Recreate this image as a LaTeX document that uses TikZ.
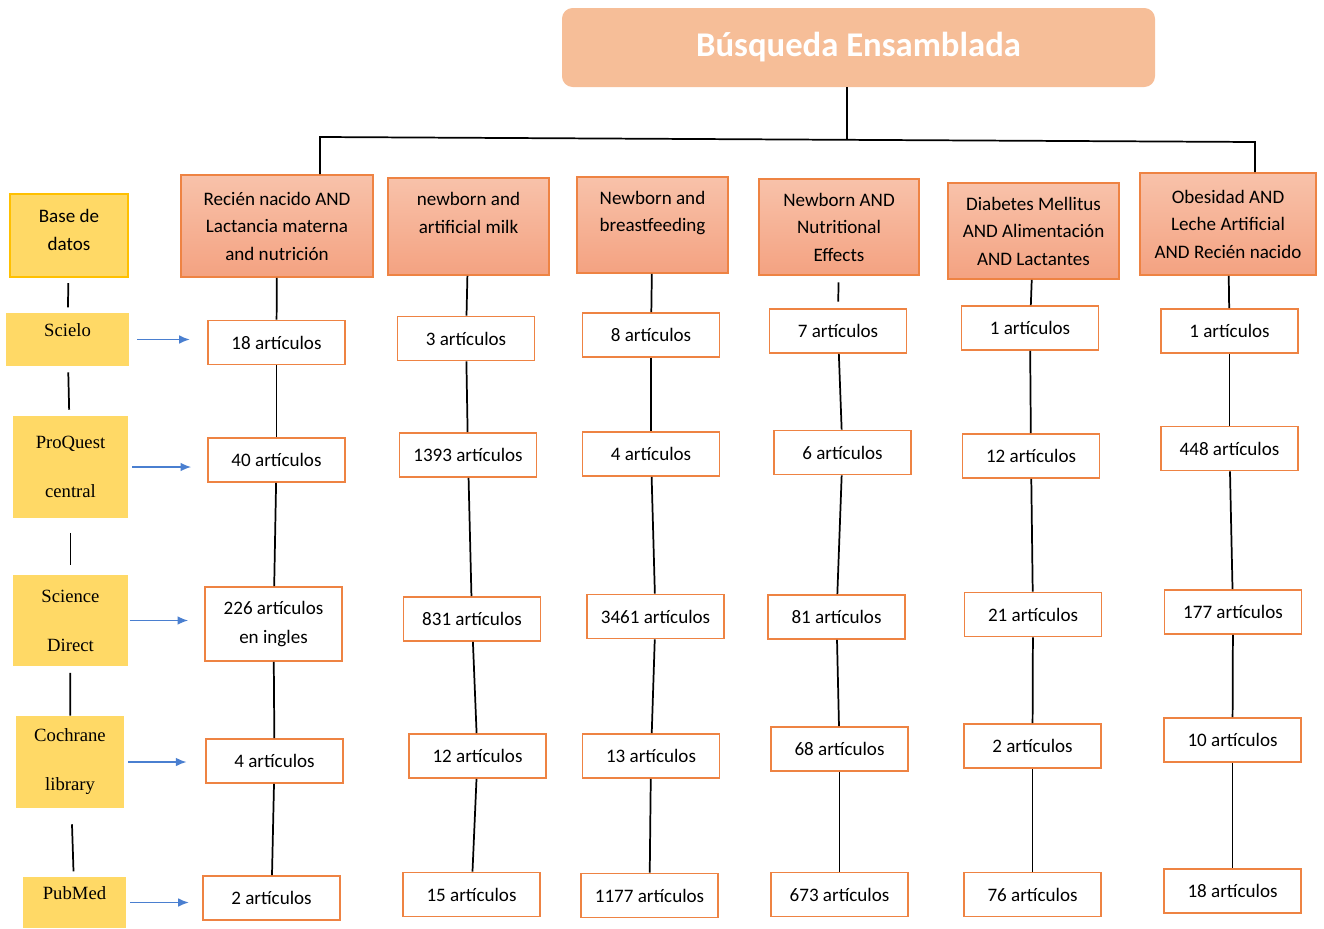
\documentclass[tikz,border=0pt]{standalone}
\usepackage{fontspec}
\setmainfont{Carlito}
\newfontfamily\dbfont{Liberation Serif}
\usepackage{tikz}
\usetikzlibrary{arrows.meta}

\definecolor{titlefill}{HTML}{F6BE98}
\definecolor{orangeline}{HTML}{EE8343}
\definecolor{headtop}{HTML}{F8C2AA}
\definecolor{headbot}{HTML}{F4A281}
\definecolor{dbyellow}{HTML}{FFD966}
\definecolor{dbline}{HTML}{FFC000}
\definecolor{arrowblue}{HTML}{4A7FD0}

\begin{document}
\begin{tikzpicture}[x=0.75pt,y=0.75pt,yscale=-1,xscale=1,
    headbox/.style={draw=orangeline,line width=1.2pt,top color=headtop,bottom color=headbot,inner sep=0pt,align=center,font=\fontsize{14.3}{20.6}\selectfont},
    artbox/.style={draw=orangeline,line width=1.2pt,fill=white,minimum width=102.75pt,minimum height=33pt,inner sep=0pt,align=center,font=\fontsize{14.3}{21.75}\selectfont},
    dbbox/.style={fill=dbyellow,inner sep=0pt,align=center,font=\dbfont\fontsize{14}{36.75}\selectfont},
    dbone/.style={dbbox,text height=10pt,text depth=14pt},
    treeline/.style={line width=1.3pt},
    dbarrow/.style={draw=arrowblue,line width=1.2pt,-{Latex[length=8pt,width=6.5pt]}}]
        \useasboundingbox (0,0) rectangle (1324,928);

        %Rounded Rect
        \draw (858.5,47.5) node [fill=titlefill,rounded corners=8pt,minimum width=444.75pt,minimum height=59.25pt,text=white,font=\fontsize{26}{30}\selectfont\bfseries] (title) {Búsqueda Ensamblada};

        %Shape: Rectangle
        \draw (277,226) node [headbox,minimum width=144pt,minimum height=76.5pt] (h1) {Recién nacido AND\\Lactancia materna\\and nutrición};
        \draw (468.5,226.5) node [headbox,minimum width=120.75pt,minimum height=72.75pt] (h2) {newborn and\\artificial milk\\\mbox{}};
        \draw (652.5,225) node [headbox,minimum width=113.25pt,minimum height=72pt] (h3) {Newborn and\\breastfeeding\\\mbox{}};
        \draw (839,227) node [headbox,minimum width=120pt,minimum height=72pt] (h4) {Newborn AND\\Nutritional\\Effects};
        \draw (1033.5,231) node [headbox,minimum width=128.25pt,minimum height=72pt] (h5) {Diabetes Mellitus\\AND Alimentación\\AND Lactantes};
        \draw (1228,224) node [headbox,minimum width=132pt,minimum height=76.5pt] (h6) {Obesidad AND\\Leche Artificial\\AND Recién nacido};

        %Shape: Rectangle
        \draw (69,235.5) node [dbbox,draw=dbline,line width=1.2pt,minimum width=88.5pt,minimum height=62.25pt,font=\fontsize{14.3}{21}\selectfont,text depth=8pt] (base) {Base de\\datos};
        \draw (67.5,339.5) node [dbone,minimum width=92.25pt,minimum height=39.75pt] (scielo) {Scielo};
        \draw (70.5,467) node [dbbox,minimum width=86.25pt,minimum height=76.5pt] (proquest) {ProQuest\\central};
        \draw (70.5,620.5) node [dbbox,minimum width=86.25pt,minimum height=68.25pt] (scidirect) {Science\\Direct};
        \draw (70,762) node [dbbox,minimum width=81pt,minimum height=69pt] (cochrane) {Cochrane\\library};
        \draw (74.5,902.5) node [dbone,minimum width=77.25pt,minimum height=38.25pt] (pubmed) {PubMed};

        % Text Node
        \draw (276.5,342.5) node [artbox] (a11) {18 artículos};
        \draw (276.5,460) node [artbox] (a12) {40 artículos};
        \draw (273.5,624) node [artbox,minimum height=55.5pt] (a13) {226 artículos\\en ingles};
        \draw (274.5,761) node [artbox] (a14) {4 artículos};
        \draw (271.5,898) node [artbox] (a15) {2 artículos};

        \draw (466,338.5) node [artbox] (a21) {3 artículos};
        \draw (468,455) node [artbox] (a22) {1393 artículos};
        \draw (472,619) node [artbox] (a23) {831 artículos};
        \draw (477.5,756) node [artbox] (a24) {12 artículos};
        \draw (471.5,894.5) node [artbox] (a25) {15 artículos};

        \draw (651,335) node [artbox] (a31) {8 artículos};
        \draw (651,454) node [artbox] (a32) {4 artículos};
        \draw (655.5,616.5) node [artbox] (a33) {3461 artículos};
        \draw (651,756) node [artbox] (a34) {13 artículos};
        \draw (649.5,895.5) node [artbox] (a35) {1177 artículos};

        \draw (838,331) node [artbox] (a41) {7 artículos};
        \draw (842.5,452.5) node [artbox] (a42) {6 artículos};
        \draw (836.5,617) node [artbox] (a43) {81 artículos};
        \draw (839.5,749) node [artbox] (a44) {68 artículos};
        \draw (839.5,894.5) node [artbox] (a45) {673 artículos};

        \draw (1030,328) node [artbox] (a51) {1 artículos};
        \draw (1031,456) node [artbox] (a52) {12 artículos};
        \draw (1033,614.5) node [artbox] (a53) {21 artículos};
        \draw (1032.5,746) node [artbox] (a54) {2 artículos};
        \draw (1032.5,894.5) node [artbox] (a55) {76 artículos};

        \draw (1229.5,331) node [artbox] (a61) {1 artículos};
        \draw (1229.5,448.5) node [artbox] (a62) {448 artículos};
        \draw (1233,612) node [artbox] (a63) {177 artículos};
        \draw (1232.5,740) node [artbox] (a64) {10 artículos};
        \draw (1232.5,891) node [artbox] (a65) {18 artículos};

        %Straight Lines
        \coordinate (barL) at (320,137);
        \coordinate (barM) at (847,139.5);
        \coordinate (barR) at (1255,142);
        \draw [treeline] (title.south -| barM) -- (barM);
        \draw [treeline] (h1.north -| barL) -- (barL) -- (barR) -- (h6.north -| barR);

        %Straight Lines
        \draw [treeline] (h1) -- (a11);
        \draw [treeline] (a11) -- (a12);
        \draw [treeline] (a12) -- (a13);
        \draw [treeline] (a13) -- (a14);
        \draw [treeline] (a14) -- (a15);

        \draw [treeline] (h2) -- (a21);
        \draw [treeline] (a21) -- (a22);
        \draw [treeline] (a22) -- (a23);
        \draw [treeline] (a23) -- (a24);
        \draw [treeline] (a24) -- (a25);

        \draw [treeline] (h3) -- (a31);
        \draw [treeline] (a31) -- (a32);
        \draw [treeline] (a32) -- (a33);
        \draw [treeline] (a33) -- (a34);
        \draw [treeline] (a34) -- (a35);

        \draw [treeline,shorten <=5pt,shorten >=5pt] (h4) -- (a41);
        \draw [treeline] (a41) -- (a42);
        \draw [treeline] (a42) -- (a43);
        \draw [treeline] (a43) -- (a44);
        \draw [treeline] (a44) -- (a45);

        \draw [treeline] (h5) -- (a51);
        \draw [treeline] (a51) -- (a52);
        \draw [treeline] (a52) -- (a53);
        \draw [treeline] (a53) -- (a54);
        \draw [treeline] (a54) -- (a55);

        \draw [treeline] (h6) -- (a61);
        \draw [treeline] (a61) -- (a62);
        \draw [treeline] (a62) -- (a63);
        \draw [treeline] (a63) -- (a64);
        \draw [treeline] (a64) -- (a65);

        %Straight Lines
        \draw [treeline,shorten <=4pt,shorten >=4pt] (base) -- (scielo);
        \draw [treeline,shorten <=4.5pt,shorten >=4.5pt] (scielo) -- (proquest);
        \draw [treeline,shorten <=11pt,shorten >=7pt] (proquest) -- (scidirect);
        \draw [treeline,shorten <=5pt] (scidirect) -- (cochrane);
        \draw [treeline,shorten <=12pt,shorten >=4pt] (cochrane) -- (pubmed);

        %Straight Lines
        \draw [dbarrow,shorten <=6pt,shorten >=13pt] (scielo.east) -- (scielo.east -| a11.west);
        \draw [dbarrow,shorten <=3pt,shorten >=12pt] (proquest.east) -- (proquest.east -| a12.west);
        \draw [dbarrow,shorten <=1pt,shorten >=12pt] (scidirect.east) -- (scidirect.east -| a13.west);
        \draw [dbarrow,shorten <=3pt,shorten >=14pt] (cochrane.east) -- (cochrane.east -| a14.west);
        \draw [dbarrow,shorten <=3pt,shorten >=10pt] (pubmed.east) -- (pubmed.east -| a15.west);
        \end{tikzpicture}
\end{document}
